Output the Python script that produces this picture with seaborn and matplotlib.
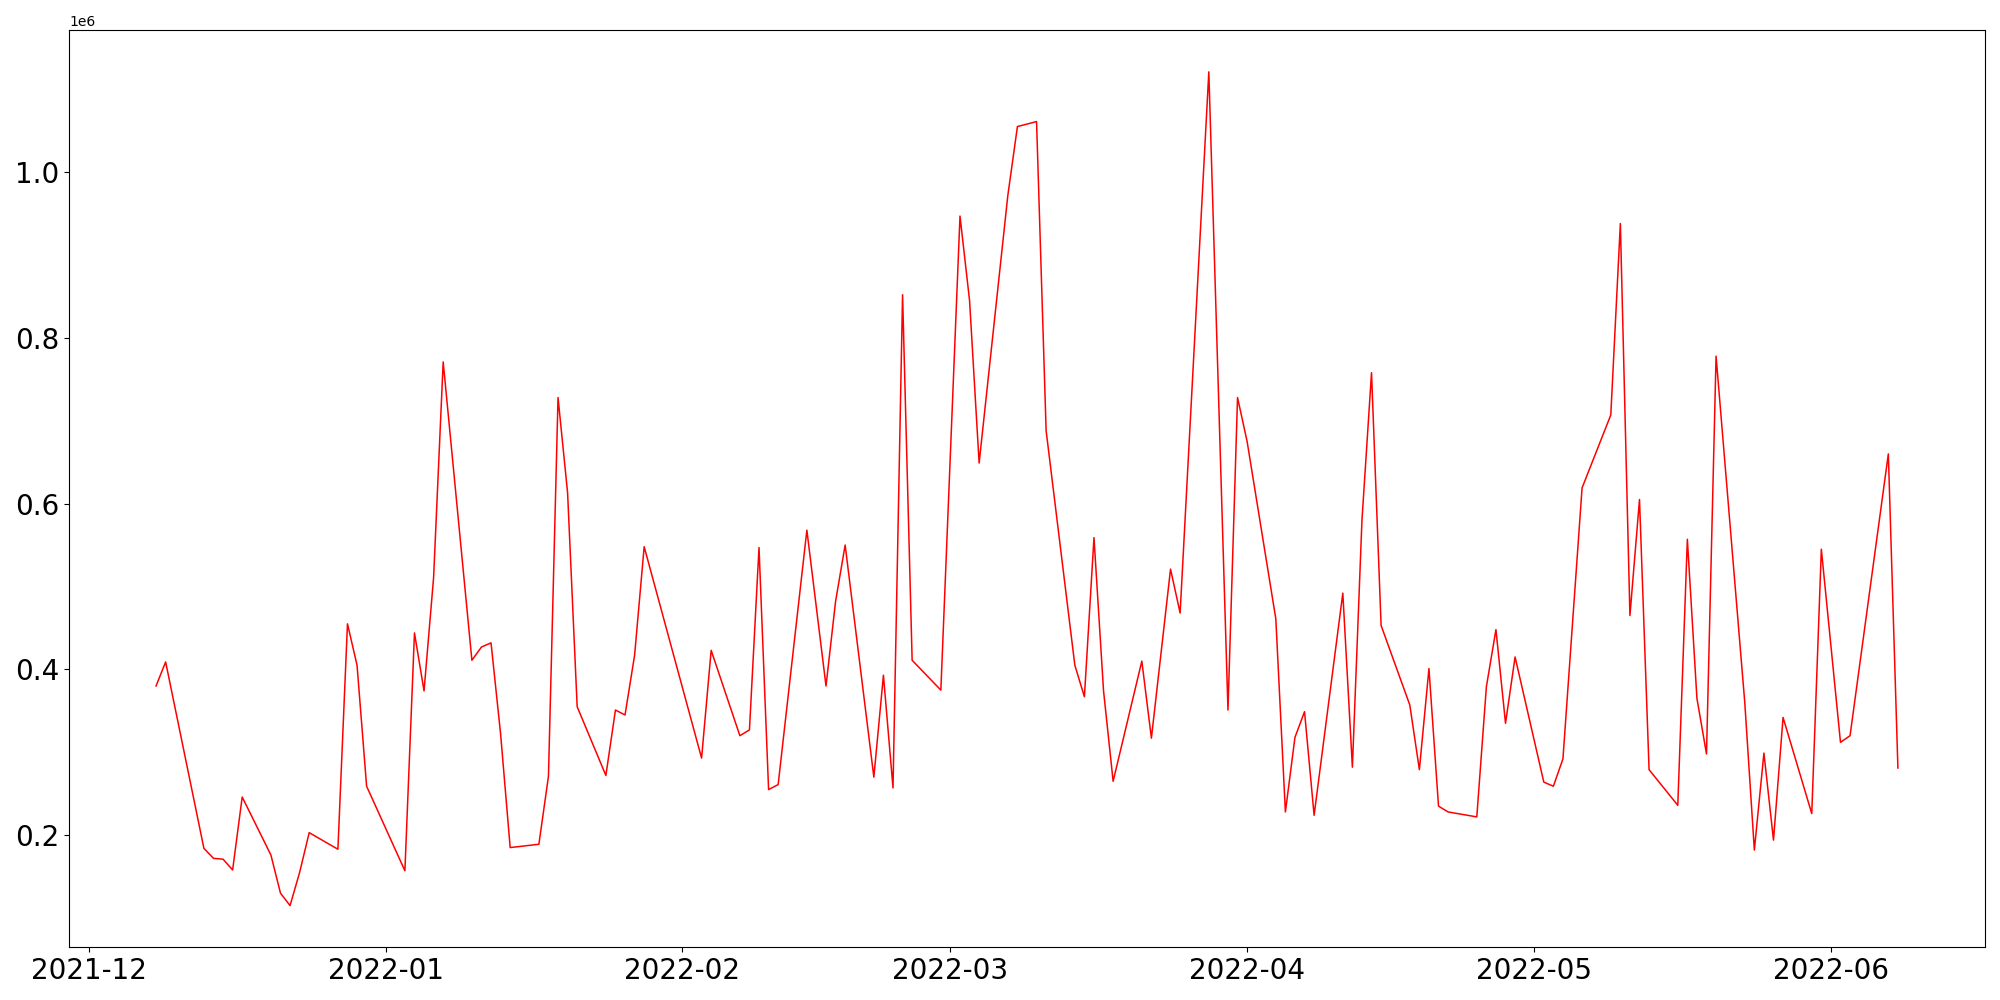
import pandas as pd
import matplotlib
matplotlib.use("Agg")
import matplotlib.pyplot as plt
import seaborn as sns

# daily values
dates = [
    "2021-12-08", "2021-12-09", "2021-12-13", "2021-12-14", "2021-12-15",
    "2021-12-16", "2021-12-17", "2021-12-20", "2021-12-21", "2021-12-22",
    "2021-12-23", "2021-12-24", "2021-12-27", "2021-12-28", "2021-12-29",
    "2021-12-30", "2022-01-03", "2022-01-04", "2022-01-05", "2022-01-06",
    "2022-01-07", "2022-01-10", "2022-01-11", "2022-01-12", "2022-01-13",
    "2022-01-14", "2022-01-17", "2022-01-18", "2022-01-19", "2022-01-20",
    "2022-01-21", "2022-01-24", "2022-01-25", "2022-01-26", "2022-01-27",
    "2022-01-28", "2022-02-03", "2022-02-04", "2022-02-07", "2022-02-08",
    "2022-02-09", "2022-02-10", "2022-02-11", "2022-02-14", "2022-02-16",
    "2022-02-17", "2022-02-18", "2022-02-21", "2022-02-22", "2022-02-23",
    "2022-02-24", "2022-02-25", "2022-02-28", "2022-03-02", "2022-03-03",
    "2022-03-04", "2022-03-07", "2022-03-08", "2022-03-10", "2022-03-11",
    "2022-03-14", "2022-03-15", "2022-03-16", "2022-03-17", "2022-03-18",
    "2022-03-21", "2022-03-22", "2022-03-24", "2022-03-25", "2022-03-28",
    "2022-03-30", "2022-03-31", "2022-04-01", "2022-04-04", "2022-04-05",
    "2022-04-06", "2022-04-07", "2022-04-08", "2022-04-11", "2022-04-12",
    "2022-04-13", "2022-04-14", "2022-04-15", "2022-04-18", "2022-04-19",
    "2022-04-20", "2022-04-21", "2022-04-22", "2022-04-25", "2022-04-26",
    "2022-04-27", "2022-04-28", "2022-04-29", "2022-05-02", "2022-05-03",
    "2022-05-04", "2022-05-06", "2022-05-09", "2022-05-10", "2022-05-11",
    "2022-05-12", "2022-05-13", "2022-05-16", "2022-05-17", "2022-05-18",
    "2022-05-19", "2022-05-20", "2022-05-23", "2022-05-24", "2022-05-25",
    "2022-05-26", "2022-05-27", "2022-05-30", "2022-05-31", "2022-06-02",
    "2022-06-03", "2022-06-07", "2022-06-08",
]

values = [
    380000, 409000, 184000, 172000, 171000,
    158000, 246000, 176000, 130000, 115000,
    155000, 203000, 183000, 455000, 405000,
    259000, 157000, 444000, 374000, 511000,
    771000, 411000, 427000, 432000, 322000,
    185000, 189000, 271000, 728000, 613000,
    355000, 272000, 351000, 345000, 417000,
    548000, 293000, 423000, 320000, 327000,
    547000, 255000, 261000, 568000, 380000,
    482000, 550000, 270000, 393000, 257000,
    852000, 411000, 375000, 947000, 845000,
    649000, 972000, 1055000, 1061000, 688000,
    405000, 367000, 559000, 374000, 265000,
    410000, 317000, 521000, 468000, 1121000,
    351000, 728000, 675000, 461000, 228000,
    318000, 349000, 224000, 492000, 282000,
    580000, 758000, 453000, 357000, 279000,
    401000, 235000, 228000, 222000, 379000,
    448000, 335000, 415000, 264000, 259000,
    292000, 619000, 707000, 938000, 465000,
    605000, 279000, 236000, 557000, 365000,
    298000, 778000, 360000, 182000, 299000,
    194000, 342000, 226000, 545000, 312000,
    320000, 660000, 281000,
]

df = pd.DataFrame({"date": pd.to_datetime(dates), "value": values})

fig, ax = plt.subplots(figsize=(20, 10), dpi=100)
sns.lineplot(data=df, x="date", y="value", color="red", linewidth=1.1, ax=ax)

ax.set_xlabel("")
ax.set_ylabel("")
ax.tick_params(axis="both", labelsize=20)

plt.tight_layout()
plt.savefig("out.png")
